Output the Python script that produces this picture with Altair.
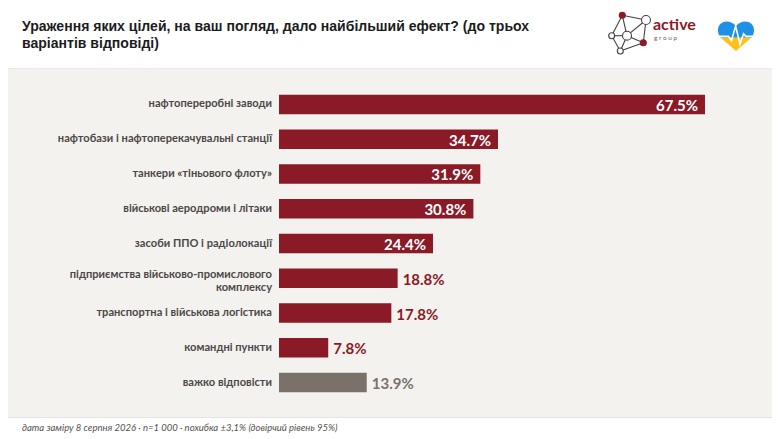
import altair as alt
import pandas as pd

categories = [
    "нафтопереробні заводи",
    "нафтобази і нафтоперекачувальні станції",
    "танкери «тіньового флоту»",
    "військові аеродроми і літаки",
    "засоби ППО і радіолокації",
    "підприємства військово-промислового\nкомплексу",
    "транспортна і військова логістика",
    "командні пункти",
    "важко відповісти",
]
values = [67.5, 34.7, 31.9, 30.8, 24.4, 18.8, 17.8, 7.8, 13.9]
groups = ["main"] * 8 + ["other"]
placement = ["in"] * 5 + ["out"] * 4
title_lines = [
    "Ураження яких цілей, на ваш погляд, дало найбільший ефект? (до трьох",
    "варіантів відповіді)",
]
footer = "дата заміру 8 серпня 2026 · n=1 000 · похибка ±3,1% (довірчий рівень 95%)"

RED, GREY = "#8b1a27", "#7a716a"
df = pd.DataFrame({"cat": categories, "val": values, "group": groups, "place": placement})
df["label"] = df["val"].map(lambda v: f"{v:.1f}%")
df["multi"] = df["cat"].str.contains("\n")

W, H = 764, 427
x_scale = alt.Scale(domain=[0, 80], range=[271, 775.9])
y_scale = alt.Scale(domain=categories, range=[79.1, 391.9], paddingInner=0.44, paddingOuter=0.22)
X = alt.X("val:Q", scale=x_scale, axis=None)
Y = alt.Y("cat:N", scale=y_scale, axis=None, sort=None)
color = alt.Color("group:N", scale=alt.Scale(domain=["main", "other"], range=[RED, GREY]), legend=None)


def px(x):
    return alt.value(x - 8)


def rule(a, b, c="#45403f", w=1.1):
    return alt.Chart(df.head(1)).mark_rule(color=c, strokeWidth=w).encode(
        x=px(a[0]), x2=px(b[0]), y=px(a[1]), y2=px(b[1]))


def txt(t, x, y, **kw):
    return alt.Chart(pd.DataFrame({"t": [t]})).mark_text(**kw).encode(
        x=px(x), y=px(y), text="t:N")


def node(p, size, fill, stroke="#45403f"):
    return alt.Chart(df.head(1)).mark_point(
        filled=True, fill=fill, stroke=stroke, strokeWidth=1.1, size=size, opacity=1
    ).encode(x=px(p[0]), y=px(p[1]))


def shape(path, size, p, **kw):
    return alt.Chart(df.head(1)).mark_point(shape=path, size=size, opacity=1, **kw).encode(
        x=px(p[0]), y=px(p[1]))


band = alt.Chart(df.head(1)).mark_rect(color="#f4f2ef").encode(
    x=alt.value(-8), x2=alt.value(W), y=px(69), y2=px(417))
edge_top = rule((0, 68.5), (780, 68.5), "#ecebe8", 1)
edge_bot = rule((0, 417.5), (780, 417.5), "#e6e5e2", 1)

bars = alt.Chart(df).mark_bar().encode(x=alt.X("val:Q", scale=x_scale, axis=None), x2=alt.value(271), y=Y, color=color)
cat_style = dict(align="right", baseline="middle", font="Lato", fontWeight="bold", fontSize=11.12,
                 color="#4c4746", lineBreak="\n", lineHeight=13)
cats = alt.Chart(df[~df.multi]).mark_text(**cat_style).encode(x=alt.value(264), y=Y, text="cat:N")
cats2 = alt.Chart(df[df.multi]).mark_text(dy=-3.5, **cat_style).encode(x=alt.value(264), y=Y, text="cat:N")
lab_in = alt.Chart(df[df.place == "in"]).mark_text(
    align="right", baseline="middle", dx=-7, dy=1.5, font="Lato", fontWeight="bold", fontSize=15, color="white"
).encode(x=X, y=Y, text="label:N")
lab_out = alt.Chart(df[df.place == "out"]).mark_text(
    align="left", baseline="middle", dx=5, dy=1.5, font="Lato", fontWeight="bold", fontSize=15
).encode(x=X, y=Y, text="label:N", color=color)

t_font = dict(font="Liberation Sans", fontWeight="bold", fontSize=14.05, color="#1c1c1c", align="left", baseline="alphabetic")
title1 = txt(title_lines[0], 22, 31, **t_font)
title2 = txt(title_lines[1], 22, 48, **t_font)
foot = txt(footer, 22, 431, font="Lato", fontStyle="italic", fontSize=9.5, color="#55504e", align="left", baseline="alphabetic")

n = dict(red1=(622.3, 15.3), top=(646, 20), left=(611.7, 35.7), mid=(627, 35.7), bot=(620.3, 51), red2=(643.3, 42.7))
links = [("red1", "top"), ("red1", "left"), ("red1", "mid"), ("left", "mid"), ("left", "bot"), ("mid", "bot"),
         ("mid", "top"), ("top", "red2"), ("red2", "bot"), ("mid", "red2")]
logo = [rule(n[a], n[b]) for a, b in links]
logo += [node(n["red1"], 36, RED, RED), node(n["red2"], 36, RED, RED), node(n["top"], 80, "white"),
         node(n["left"], 36, "white"), node(n["mid"], 80, "white"), node(n["bot"], 36, "white")]
logo += [
    txt("active", 653, 29.5, font="Lato", fontWeight="bold", fontSize=16, color=RED, align="left", baseline="alphabetic"),
    txt("g    r    o    u    p", 654, 39.5, font="Lato", fontSize=6.5, color="#666", align="left", baseline="alphabetic"),
]

heart_top = "M-1,-0.33 C-1,-0.83 -0.35,-1 0,-0.55 C0.35,-1 1,-0.83 1,-0.33 C1,-0.15 0.95,-0.02 0.85,0.1 L-0.85,0.1 C-0.95,-0.02 -1,-0.15 -1,-0.33 Z"
heart_bot = "M-0.85,0.1 L0.85,0.1 L0,0.83 Z"
pulse = "M-1,0.02 L-0.42,0.02 L-0.25,0.25 L-0.02,-0.55 L0.22,0.45 L0.42,-0.12 L0.55,0.02 L1,0.02"
H_SIZE, H_POS = 1296, (736, 36)
heart = [
    shape(heart_top, H_SIZE, H_POS, filled=True, fill="#1e90e6", strokeWidth=0),
    shape(heart_bot, H_SIZE, H_POS, filled=True, fill="#fcc21b", strokeWidth=0),
    shape(pulse, H_SIZE, H_POS, filled=False, stroke="white", strokeWidth=1.6),
]

chart = alt.layer(
    band, edge_top, edge_bot, bars, cats, cats2, lab_in, lab_out, title1, title2, foot, *logo, *heart
).properties(
    width=W, height=H, padding=0, background="white",
    autosize=alt.AutoSizeParams(type="none"),
).resolve_scale(color="shared").configure_view(stroke=None)

chart.save("out.html", embed_options={"renderer": "svg", "actions": False})
